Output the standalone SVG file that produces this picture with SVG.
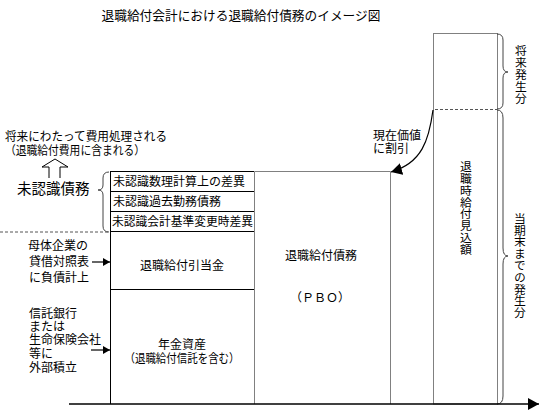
<svg xmlns="http://www.w3.org/2000/svg" width="540" height="411" viewBox="0 0 540 411">
<defs>
<style>
text{font-family:"Noto Sans CJK JP","Noto Sans",sans-serif;font-size:12px;fill:#000}
.t{font-size:12.7px}
.big{font-size:14.5px}
.v{writing-mode:vertical-rl;text-anchor:middle;font-size:11.8px}
.c{text-anchor:middle}
.blk{fill:none;stroke:#000;stroke-width:1}
.gry{fill:none;stroke:#808080;stroke-width:1}
.dash{fill:none;stroke:#555;stroke-width:1;stroke-dasharray:3,2}
.brace{fill:none;stroke:#444;stroke-width:1}
</style>
<marker id="ah" markerWidth="8" markerHeight="8" refX="7" refY="4" orient="auto" markerUnits="userSpaceOnUse">
<path d="M0,0 L7,4 L0,8 Z" fill="#000"/>
</marker>
<marker id="ahb" markerWidth="12" markerHeight="12" refX="11" refY="6" orient="auto" markerUnits="userSpaceOnUse">
<path d="M0,0 L11,6 L0,12 Z" fill="#000"/>
</marker>
</defs>
<rect width="540" height="411" fill="#fff"/>
<text class="t c" x="241" y="20">退職給付会計における退職給付債務のイメージ図</text>

<g id="note-future">
<text x="5" y="140.5" textLength="162" lengthAdjust="spacingAndGlyphs">将来にわたって費用処理される</text>
<text x="5" y="154.5" textLength="140" lengthAdjust="spacingAndGlyphs">（退職給付費用に含まれる）</text>
<path class="blk" d="M49,178 L49,167 L42,167 L55,159 L68,167 L60,167 L60,178"/>
</g>

<g id="unrecognized">
<text class="big" x="17" y="193.5">未認識債務</text>
<path class="brace" d="M109,172 Q103,172 103,178 L103,185 Q103,190 98,190 Q103,190 103,195 L103,226 Q103,232 109,232"/>
</g>

<g id="left-column">
<line class="blk" x1="110" y1="171.5" x2="254" y2="171.5"/>
<line class="blk" x1="110" y1="191.5" x2="254" y2="191.5"/>
<line class="blk" x1="110" y1="211.5" x2="254" y2="211.5"/>
<line class="blk" x1="110" y1="231.5" x2="254" y2="231.5"/>
<line class="blk" x1="110" y1="289.5" x2="254" y2="289.5"/>
<line class="blk" x1="110.5" y1="171" x2="110.5" y2="404"/>
<text x="113" y="186">未認識数理計算上の差異</text>
<text x="113" y="206">未認識過去勤務債務</text>
<text x="112" y="225.5" textLength="141" lengthAdjust="spacingAndGlyphs">未認識会計基準変更時差異</text>
<text class="c" x="182" y="269.5">退職給付引当金</text>
<text class="c" x="182" y="348.5">年金資産</text>
<text class="c" x="182" y="362.5" textLength="115" lengthAdjust="spacingAndGlyphs">（退職給付信託を含む）</text>
</g>

<g id="pbo">
<polyline class="gry" points="254.5,404 254.5,171.5 390.5,171.5 390.5,404"/>
<text class="c" x="321" y="259.5">退職給付債務</text>
<text class="c" x="320" y="301.5">（ＰＢＯ）</text>
</g>

<g id="expected">
<rect class="gry" x="433.5" y="33.5" width="64" height="370.5"/>
<line class="dash" x1="435" y1="109.5" x2="497" y2="109.5"/>
<text class="v" x="466" y="208">退職時給付見込額</text>
</g>

<g id="right-braces">
<path class="brace" d="M497,34 Q503,34 503,40 L503,66 Q503,72 508,72 Q503,72 503,78 L503,103 Q503,109 497,109"/>
<text class="v" x="521" y="74.5">将来発生分</text>
<path class="brace" d="M497,110 Q503,110 503,118 L503,248 Q503,256 508,256 Q503,256 503,264 L503,396 Q503,404 497,404"/>
<text class="v" x="520" y="265.5">当期末までの発生分</text>
</g>

<g id="parent-note">
<text x="28" y="249.5">母体企業の</text>
<text x="29" y="266">貸借対照表</text>
<text x="29" y="281.5">に負債計上</text>
</g>

<g id="trust-note">
<text x="29" y="317.5">信託銀行</text>
<text x="29" y="330.5">または</text>
<text x="29" y="343.5">生命保険会社</text>
<text x="29" y="358">等に</text>
<text x="29" y="372">外部積立</text>
</g>

<g id="discount-label">
<text x="373" y="139.5">現在価値</text>
<text x="373" y="152.5">に割引</text>
</g>

<g id="connectors">
<line class="dash" x1="0" y1="232" x2="110" y2="232"/>
<line stroke="#000" stroke-width="1.2" x1="92" y1="262" x2="110" y2="262" marker-end="url(#ah)"/>
<line stroke="#000" stroke-width="1.2" x1="91" y1="350" x2="110" y2="350" marker-end="url(#ah)"/>
<path fill="none" stroke="#000" stroke-width="1.2" d="M433,110 C429,140 422,163 391,172" marker-end="url(#ahb)"/>
<line stroke="#000" stroke-width="1.5" x1="69" y1="404" x2="539" y2="404" marker-end="url(#ahb)"/>
</g>
</svg>
